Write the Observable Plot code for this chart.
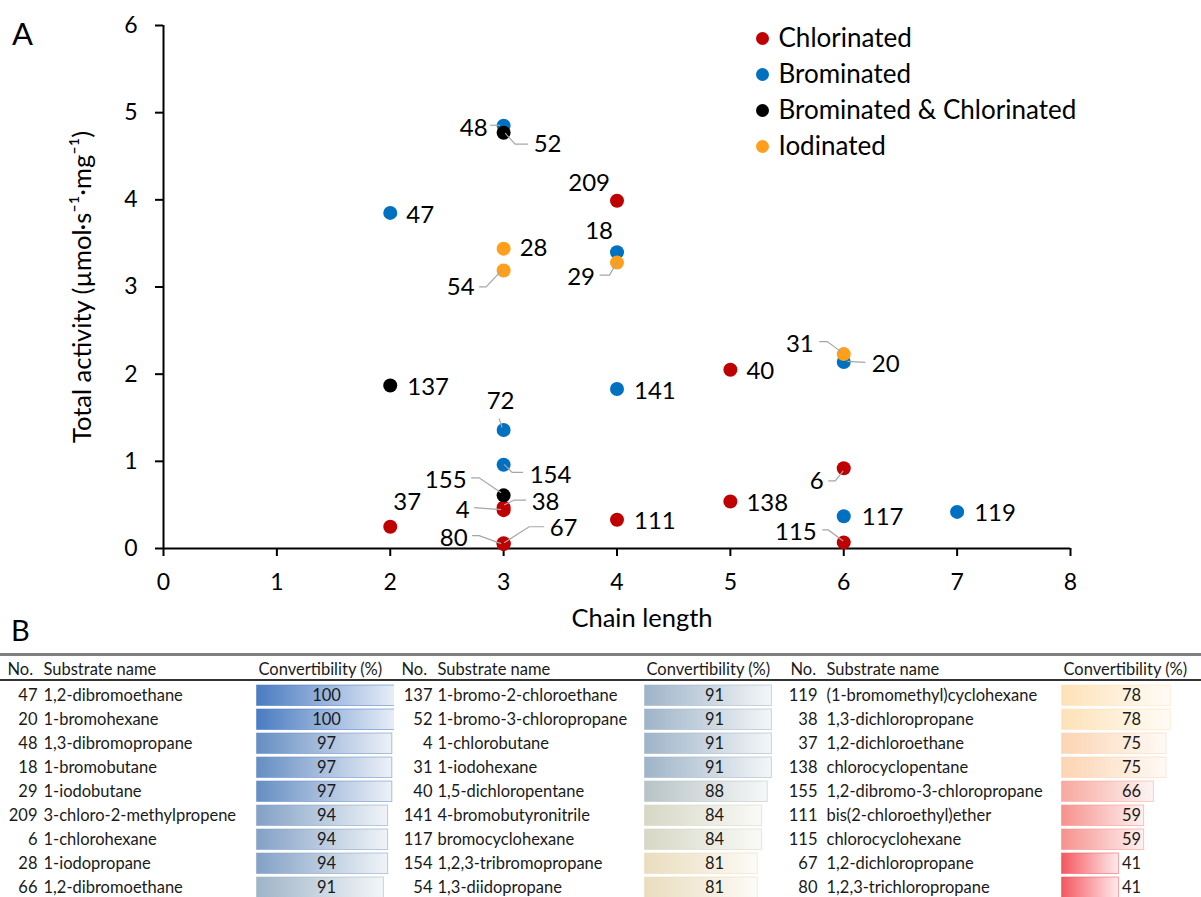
<!DOCTYPE html>
<html>
<head>
<meta charset="utf-8">
<script src="https://cdn.jsdelivr.net/npm/d3@7"></script>
<script src="https://cdn.jsdelivr.net/npm/@observablehq/plot@0.6"></script>
<style>
  html, body { margin: 0; padding: 0; background: #fff; }
  body { width: 1201px; height: 897px; position: relative; overflow: hidden; font-family: Lato, sans-serif; }
  .abs { position: absolute; }
  .panel { font-family: Lato, sans-serif; color: #000; }
  #scatter g[aria-label^="x-axis"] path, #scatter g[aria-label^="x-axis"] line,
  #scatter g[aria-label^="y-axis"] path, #scatter g[aria-label^="y-axis"] line { stroke-width: 2px; stroke: #000; }
  .hline { position: absolute; left: 0; width: 1201px; }
</style>
</head>
<body>
<div id="scatter" class="abs" style="left:0;top:0"></div>
<div id="legend" class="abs" style="left:740px;top:20px"></div>
<div class="abs panel" style="left:12px;top:14px;font-size:31px">A</div>
<div class="abs panel" style="left:11px;top:612px;font-size:29px">B</div>
<div class="hline" style="top:653px;height:3px;background:#7f7f7f"></div>
<div class="hline" style="top:679px;height:2px;background:#333"></div>
<div id="t0" class="abs" style="left:0;top:645px"></div>
<div id="t1" class="abs" style="left:394px;top:645px"></div>
<div id="t2" class="abs" style="left:783px;top:645px"></div>
<script>
// ---------- Panel A data ----------
const groups = ["Chlorinated", "Brominated", "Brominated & Chlorinated", "Iodinated"];
const groupColors = ["#C00000", "#0070C0", "#000000", "#FF9F1C"];

const substrateId = [47, 137, 37, 48, 52, 28, 54, 72, 154, 155, 38, 4, 80, 67, 209, 18, 29, 141, 111, 40, 138, 31, 20, 6, 117, 115, 119];
const chainLength = [2, 2, 2, 3, 3, 3, 3, 3, 3, 3, 3, 3, 3, 3, 4, 4, 4, 4, 4, 5, 5, 6, 6, 6, 6, 6, 7];
const totalActivity = [3.85, 1.87, 0.25, 4.85, 4.77, 3.44, 3.19, 1.36, 0.96, 0.61, 0.47, 0.44, 0.05, 0.06, 3.99, 3.40, 3.28, 1.83, 0.33, 2.05, 0.54, 2.23, 2.14, 0.92, 0.37, 0.07, 0.42];
const substrateGroup = ["Brominated", "Brominated & Chlorinated", "Chlorinated", "Brominated", "Brominated & Chlorinated", "Iodinated", "Iodinated", "Brominated", "Brominated", "Brominated & Chlorinated", "Chlorinated", "Chlorinated", "Chlorinated", "Chlorinated", "Chlorinated", "Brominated", "Iodinated", "Brominated", "Chlorinated", "Chlorinated", "Chlorinated", "Iodinated", "Brominated", "Chlorinated", "Brominated", "Chlorinated", "Brominated"];
const xTicks = [0, 1, 2, 3, 4, 5, 6, 7, 8];
const yTicks = [0, 1, 2, 3, 4, 5, 6];

// ---------- Panel B data ----------
const tableNo = [47, 20, 48, 18, 29, 209, 6, 28, 66, 137, 52, 4, 31, 40, 141, 117, 154, 54, 119, 38, 37, 138, 155, 111, 115, 67, 80];
const tableName = ["1,2-dibromoethane", "1-bromohexane", "1,3-dibromopropane", "1-bromobutane", "1-iodobutane", "3-chloro-2-methylpropene", "1-chlorohexane", "1-iodopropane", "1,2-dibromoethane",
  "1-bromo-2-chloroethane", "1-bromo-3-chloropropane", "1-chlorobutane", "1-iodohexane", "1,5-dichloropentane", "4-bromobutyronitrile", "bromocyclohexane", "1,2,3-tribromopropane", "1,3-diidopropane",
  "(1-bromomethyl)cyclohexane", "1,3-dichloropropane", "1,2-dichloroethane", "chlorocyclopentane", "1,2-dibromo-3-chloropropane", "bis(2-chloroethyl)ether", "chlorocyclohexane", "1,2-dichloropropane", "1,2,3-trichloropropane"];
const tableConv = [100, 100, 97, 97, 97, 94, 94, 94, 91, 91, 91, 91, 91, 88, 84, 84, 81, 81, 78, 78, 75, 75, 66, 59, 59, 41, 41];

// ---------- layout (styling only) ----------
const labelLayout = {
  47: {dx: 16, dy: 2, a: "start"},
  137: {dx: 17, dy: 2, a: "start"},
  37: {dx: 3, dy: -24, a: "start"},
  48: {dx: -16, dy: 3, a: "end", lead: [[-13, 0], [-3, 0]]},
  52: {dx: 30, dy: 12, a: "start", lead: [[2, 1], [12, 12], [25, 12]]},
  28: {dx: 16, dy: 0, a: "start"},
  54: {dx: -29, dy: 17, a: "end", lead: [[-24, 17], [-17, 17], [-1, 0]]},
  72: {dx: -3, dy: -29, a: "middle", lead: [[-4, -11], [-1, -2]]},
  154: {dx: 26, dy: 10, a: "start", lead: [[1, 0], [9, 8], [20, 8]]},
  155: {dx: -37, dy: -15, a: "end", lead: [[-32, -17], [-24, -17], [-2, -2]]},
  38: {dx: 28, dy: -5, a: "start", lead: [[1, -2], [11, -7], [23, -7]]},
  4: {dx: -34, dy: 0, a: "end", lead: [[-29, -2], [-2, 0]]},
  80: {dx: -36, dy: -6, a: "end", lead: [[-31, -8], [-24, -8], [-2, 0]]},
  67: {dx: 46, dy: -15, a: "start", lead: [[1, 0], [26, -16], [41, -16]]},
  209: {dx: -7, dy: -17, a: "end"},
  18: {dx: -4, dy: -21, a: "end"},
  29: {dx: -22, dy: 15, a: "end", lead: [[-17, 13], [-7, 13], [0, 1]]},
  141: {dx: 17, dy: 2, a: "start"},
  111: {dx: 17, dy: 2, a: "start"},
  40: {dx: 16, dy: 2, a: "start"},
  138: {dx: 16, dy: 2, a: "start"},
  31: {dx: -30, dy: -10, a: "end", lead: [[-24, -12], [-16, -12], [-1, -1]]},
  20: {dx: 28, dy: 2, a: "start", lead: [[4, 0], [22, 1]]},
  6: {dx: -20, dy: 13, a: "end", lead: [[-15, 13], [-8, 13], [0, 3]]},
  117: {dx: 18, dy: 1, a: "start"},
  115: {dx: -27, dy: -10, a: "end", lead: [[-21, -12], [-15, -12], [0, -1]]},
  119: {dx: 17, dy: 1, a: "start"}
};

const points = substrateId.map((id, i) => ({id, x: chainLength[i], y: totalActivity[i], group: substrateGroup[i]}));
const drawn = d3.sort(points, d => groups.indexOf(d.group));
const colorOpts = {domain: groups, range: groupColors};

const labelMarks = points.map(p => {
  const L = labelLayout[p.id];
  return Plot.text([p], {x: "x", y: "y", text: d => String(d.id), dx: L.dx, dy: L.dy, textAnchor: L.a, fontSize: 24, fill: "#000"});
});

const leaders = (index, scales) => {
  const g = d3.create("svg:g").attr("stroke", "#a6a6a6").attr("fill", "none").attr("stroke-width", 1.2);
  for (const p of points) {
    const L = labelLayout[p.id];
    if (!L || !L.lead) continue;
    const cx = scales.x(p.x), cy = scales.y(p.y);
    g.append("polyline").attr("points", L.lead.map(([a, b]) => `${cx + a},${cy + b}`).join(" "));
  }
  return g.node();
};

const scatter = Plot.plot({
  width: 1201, height: 645,
  marginLeft: 163, marginRight: 131, marginTop: 25, marginBottom: 97,
  style: {fontFamily: "Lato, sans-serif", fontSize: "23px", background: "transparent", color: "#000", overflow: "visible"},
  x: {domain: [0, 8], ticks: xTicks, tickFormat: d3.format("d"), tickSize: 8, tickPadding: 17, label: null},
  y: {domain: [0, 6], ticks: yTicks, tickFormat: d3.format("d"), tickSize: 8, tickPadding: 18, label: null},
  color: colorOpts,
  marks: [
    Plot.ruleY([0], {stroke: "#000", strokeWidth: 2}),
    Plot.ruleX([0], {stroke: "#000", strokeWidth: 2}),
    Plot.dot(drawn, {x: "x", y: "y", fill: "group", r: 7}),
    leaders,
    ...labelMarks,
    Plot.text(["Chain length"], {frameAnchor: "bottom", dx: 25, dy: 70, lineAnchor: "middle", fontSize: 25.5, fill: "#000"}),
    Plot.text(["Total activity (µmol·s⁻¹·mg⁻¹)"], {frameAnchor: "left", dx: -81, rotate: -90, textAnchor: "middle", lineAnchor: "middle", fontSize: 25.5, fill: "#000"})
  ]
});
document.getElementById("scatter").append(scatter);

const legend = Plot.plot({
  width: 380, height: 150, margin: 0,
  style: {fontFamily: "Lato, sans-serif", fontSize: "26px", background: "transparent", color: "#000"},
  x: {axis: null},
  y: {type: "band", domain: groups, range: [0, 144.4], padding: 0, axis: null},
  color: colorOpts,
  marks: [
    Plot.dot(groups, {y: d => d, fill: d => d, r: 6.5, frameAnchor: "left", dx: 22}),
    Plot.text(groups, {y: d => d, text: d => d, frameAnchor: "left", dx: 38, textAnchor: "start", fill: "#000"})
  ]
});
document.getElementById("legend").append(legend);

// ---------- Panel B ----------
const barColor = d3.scaleLinear()
  .domain([41, 66, 78, 84, 91, 100])
  .range(["#f4575f", "#f7a89f", "#fde2b8", "#d6d7c4", "#9fb4c8", "#4a7bc1"])
  .interpolate(d3.interpolateRgb);

const rows = tableNo.map((no, i) => ({no, name: tableName[i], conv: tableConv[i], col: Math.floor(i / 9), i: i % 9}));
const cols = [
  {w: 394, barStart: 256, numRight: 37},
  {w: 389, barStart: 250, numRight: 38},
  {w: 418, barStart: 278, numRight: 34}
];

cols.forEach((c, k) => {
  const data = rows.filter(r => r.col === k);
  const defs = () => {
    const d = d3.create("svg:defs");
    for (const v of new Set(data.map(r => r.conv))) {
      const g = d.append("linearGradient").attr("id", `grad-${k}-${v}`)
        .attr("x1", "0").attr("x2", "1").attr("y1", "0").attr("y2", "0");
      g.append("stop").attr("offset", "0").attr("stop-color", barColor(v));
      g.append("stop").attr("offset", "1").attr("stop-color", d3.interpolateRgb(barColor(v), "#ffffff")(0.88));
    }
    return d.node();
  };
  const p = Plot.plot({
    width: c.w, height: 252, margin: 0,
    style: {fontFamily: "Lato, sans-serif", fontSize: "16.5px", background: "transparent", color: "#1a1a1a"},
    x: {domain: [0, 100], range: [c.barStart, c.barStart + 140], axis: null},
    y: {type: "band", domain: d3.range(9), range: [36, 36 + 9 * 24.45], padding: 0, axis: null},
    color: {type: "identity"},
    marks: [
      defs,
      Plot.barX(data, {x1: 0, x2: "conv", y: "i", fill: d => `url(#grad-${k}-${d.conv})`, stroke: d => barColor(d.conv), strokeOpacity: 0.55, insetTop: 2, insetBottom: 1.5, insetLeft: 0.5}),
      Plot.text(data, {x: 50, y: "i", text: d => String(d.conv), fill: "#1a1a1a"}),
      Plot.text(data, {y: "i", frameAnchor: "left", dx: c.numRight, textAnchor: "end", text: d => String(d.no), fill: "#1a1a1a"}),
      Plot.text(data, {y: "i", frameAnchor: "left", dx: 43, textAnchor: "start", text: "name", fill: "#1a1a1a"}),
      Plot.text(["No."], {frameAnchor: "top-left", dx: 7, dy: 24, lineAnchor: "middle", textAnchor: "start", fill: "#1a1a1a"}),
      Plot.text(["Substrate name"], {frameAnchor: "top-left", dx: 43, dy: 24, lineAnchor: "middle", textAnchor: "start", fill: "#1a1a1a"}),
      Plot.text(["Convertibility (%)"], {x: 0, frameAnchor: "top", dx: 2, dy: 24, lineAnchor: "middle", textAnchor: "start", fill: "#1a1a1a"})
    ]
  });
  document.getElementById("t" + k).append(p);
});
</script>
</body>
</html>
